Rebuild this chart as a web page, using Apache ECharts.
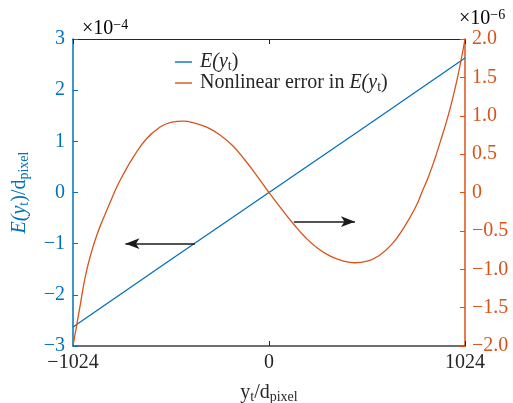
<!DOCTYPE html>
<html>
<head>
<meta charset="utf-8">
<script src="https://cdn.jsdelivr.net/npm/echarts@6/dist/echarts.min.js"></script>
<style>
html, body { margin: 0; padding: 0; background: #fff; }
#chart { width: 513px; height: 403px; }
</style>
</head>
<body>
<div id="chart"></div>
<script>
// x positions (y_t / d_pixel) for the nonlinear error curve
var errX = [-1024, -992, -960, -928, -896, -864, -832, -800, -768, -704, -640, -576, -512, -448, -384, -320, -256, -192, -128, -64, 0,
	64, 128, 192, 256, 320, 384, 448, 512, 576, 640, 704, 768, 800, 832, 864, 896, 928, 960, 992, 1024];
// nonlinear error, units of 1e-6 (right axis)
var errY = [-2.0, -1.55, -1.10, -0.78, -0.53, -0.33, -0.14, 0.045, 0.205, 0.48, 0.70, 0.84, 0.915, 0.93, 0.90, 0.845, 0.75, 0.615, 0.43, 0.22, 0,
	-0.21, -0.41, -0.59, -0.73, -0.83, -0.89, -0.915, -0.895, -0.82, -0.68, -0.46, -0.18, 0.01, 0.20, 0.42, 0.67, 0.93, 1.23, 1.58, 2.0];
// E(y_t), units of 1e-4 (left axis)
var eX = [-1024, -512, 0, 512, 1024];
var eY = [-2.63, -1.31, 0, 1.31, 2.63];
// arrows: [x start, x end, y]
var leftArrow = [-387, -750, -1];
var rightArrow = [130, 449, -0.38];

var blue = '#0072BD';
var orange = '#D95319';
var font = 'Liberation Serif';
var fs = 20;
var nameE = 'E(y_t)';
var nameErr = 'Nonlinear error in E(y_t)';

function pairs(xs, ys) {
	var out = [];
	for (var i = 0; i < xs.length; i++) {
		out.push([xs[i], ys[i]]);
	}
	return out;
}
function minus(s) {
	return String(s).replace('-', '\u2212');
}
function richSet(color, size) {
	return {
		n : { fontFamily : font, fontSize : size, color : color, lineHeight : 22 },
		i : { fontFamily : font, fontSize : size, color : color, fontStyle : 'italic', lineHeight : 22 },
		s : { fontFamily : font, fontSize : 14, color : color, lineHeight : 13, verticalAlign : 'bottom' },
		p : { fontFamily : font, fontSize : 14, color : color, lineHeight : 13, verticalAlign : 'top' }
	};
}
function arrowLine(a) {
	return {
		silent : true,
		symbol : ['none', 'arrow'],
		symbolSize : [8, 14],
		label : { show : false },
		lineStyle : { color : '#1a1a1a', width : 1.5, type : 'solid' },
		data : [[{ coord : [a[0], a[2]] }, { coord : [a[1], a[2]] }]]
	};
}

var myChart = echarts.init(document.getElementById('chart'));
var option = {
	backgroundColor : '#fff',
	animation : false,
	grid : { left : 73, right : 48, top : 39, bottom : 57, outerBoundsMode : 'none' },
	legend : {
		orient : 'vertical',
		left : 170,
		top : 47,
		icon : 'rect',
		itemWidth : 17,
		itemHeight : 1.4,
		itemGap : 0,
		data : [nameE, nameErr],
		textStyle : { fontFamily : font, fontSize : fs, color : '#262626', padding : [0, 0, 0, 3], rich : richSet('#262626', fs) },
		formatter : function(name) {
			if (name == nameE) {
				return '{i|E(y}{s|t}{n|)}';
			}
			return '{n|Nonlinear error in }{i|E(y}{s|t}{n|)}';
		}
	},
	graphic : [{
		type : 'text', left : 82, top : 18,
		style : { text : '{n|\u00d710}{p|\u22124}', rich : richSet(blue, fs) }
	}, {
		type : 'text', left : 459, top : 8,
		style : { text : '{n|\u00d710}{p|\u22126}', rich : richSet(orange, fs) }
	}],
	xAxis : [{
		type : 'value',
		min : -1024, max : 1024, interval : 1024,
		name : '{n|y}{s|t}{n|/d}{s|pixel}',
		nameLocation : 'middle',
		nameGap : 36,
		nameTextStyle : { rich : richSet('#262626', fs) },
		axisLine : { onZero : false, lineStyle : { color : '#404040', width : 1.5 } },
		axisTick : { inside : true, length : 5, lineStyle : { color : '#262626' } },
		axisLabel : { fontFamily : font, fontSize : fs, color : '#262626', margin : 7, formatter : minus },
		splitLine : { show : false }
	}, {
		type : 'value',
		position : 'top',
		min : -1024, max : 1024, interval : 1024,
		axisLine : { onZero : false, lineStyle : { color : '#262626', width : 1 } },
		axisTick : { inside : true, length : 5, lineStyle : { color : '#262626' } },
		axisLabel : { show : false },
		splitLine : { show : false }
	}],
	yAxis : [{
		type : 'value',
		position : 'left',
		min : -3, max : 3, interval : 1,
		name : '{i|E(y}{s|t}{n|)/d}{s|pixel}',
		nameLocation : 'middle',
		nameGap : 42,
		nameTextStyle : { rich : richSet(blue, fs) },
		axisLine : { show : true, onZero : false, lineStyle : { color : blue, width : 1.5 } },
		axisTick : { inside : true, length : 5, lineStyle : { color : blue } },
		axisLabel : { fontFamily : font, fontSize : fs, color : blue, margin : 8, formatter : minus },
		splitLine : { show : false }
	}, {
		type : 'value',
		position : 'right',
		min : -2, max : 2, interval : 0.5,
		axisLine : { show : true, onZero : false, lineStyle : { color : orange, width : 1.5 } },
		axisTick : { inside : true, length : 5, lineStyle : { color : orange } },
		axisLabel : {
			fontFamily : font, fontSize : fs, color : orange, margin : 7,
			formatter : function(v) {
				return v === 0 ? '0' : minus(v.toFixed(1));
			}
		},
		splitLine : { show : false }
	}],
	series : [{
		name : nameE,
		type : 'line',
		xAxisIndex : 0,
		yAxisIndex : 0,
		symbol : 'none',
		lineStyle : { color : blue, width : 1.3 },
		itemStyle : { color : blue },
		data : pairs(eX, eY),
		markLine : arrowLine(leftArrow)
	}, {
		name : nameErr,
		type : 'line',
		xAxisIndex : 0,
		yAxisIndex : 1,
		symbol : 'none',
		smooth : true,
		lineStyle : { color : orange, width : 1.3 },
		itemStyle : { color : orange },
		data : pairs(errX, errY),
		markLine : arrowLine(rightArrow)
	}]
};
myChart.setOption(option);
</script>
</body>
</html>
